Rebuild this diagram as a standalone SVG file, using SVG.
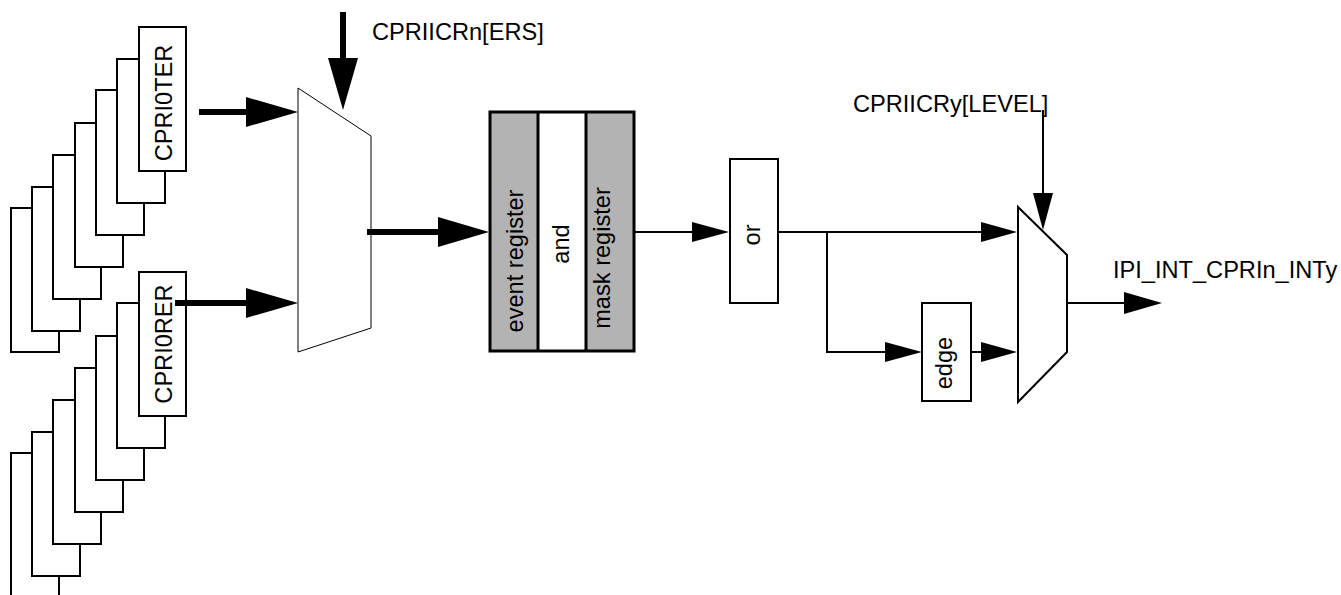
<svg xmlns="http://www.w3.org/2000/svg" width="1341" height="595" viewBox="0 0 1341 595">
<style>
.t{font-family:"Liberation Sans",Arial,sans-serif;font-size:23.6px;fill:#000}
.stk{fill:none;stroke:#000;stroke-width:2}
.box{fill:#fff;stroke:#000;stroke-width:2}
.reg{stroke:#000;stroke-width:3}
.thick{stroke:#000;stroke-width:6;fill:none}
.thin{stroke:#000;stroke-width:2;fill:none}
.mux{fill:#fff;stroke:#000}
</style>
<rect width="1341" height="595" fill="#fff"/>
<g id="ter-stack">
<path class="stk" d="M139,59H117V203H165V171 M117,90H96V235H144V203 M96,123H75V267H123V235 M75,155H53V299H101V267 M53,187H32V331H80V299 M32,208H11V352H59V331"/>
<g id="cpri0ter"><rect class="box" x="139" y="27" width="47" height="144"/>
<text class="t" transform="translate(172,103) rotate(-90)" text-anchor="middle">CPRI0TER</text></g>
</g>
<g id="rer-stack">
<path class="stk" d="M139,303H117V448H165V416 M117,336H96V480H144V448 M96,368H75V512H123V480 M75,400H53V544H101V512 M53,432H32V576H80V544 M32,453H11V600H59V576"/>
<g id="cpri0rer"><rect class="box" x="139" y="272" width="47" height="144"/>
<text class="t" transform="translate(172,344) rotate(-90)" text-anchor="middle">CPRI0RER</text></g>
</g>
<g id="mux1"><polygon class="mux" points="298,88 371,136 371,328 298,352"/></g>
<g id="ers-label"><text class="t" x="372" y="40">CPRIICRn[ERS]</text></g>
<g id="registers">
<rect x="490" y="112" width="48" height="239" fill="#b3b3b3"/>
<rect x="538" y="112" width="48" height="239" fill="#fff"/>
<rect x="586" y="112" width="48" height="239" fill="#b3b3b3"/>
<rect class="reg" x="490" y="112" width="144" height="239" fill="none"/>
<line class="reg" x1="538" y1="112" x2="538" y2="351"/>
<line class="reg" x1="586" y1="112" x2="586" y2="351"/>
<text class="t" transform="translate(523,261) rotate(-90)" text-anchor="middle">event register</text>
<text class="t" transform="translate(569,244) rotate(-90)" text-anchor="middle">and</text>
<text class="t" transform="translate(610,258) rotate(-90)" text-anchor="middle">mask register</text>
</g>
<g id="or"><rect class="box" x="730" y="159" width="48" height="144"/>
<text class="t" transform="translate(760,235) rotate(-90)" text-anchor="middle">or</text></g>
<g id="edge"><rect class="box" x="922" y="303" width="49" height="98"/>
<text class="t" transform="translate(952,363) rotate(-90)" text-anchor="middle">edge</text></g>
<g id="mux2"><polygon class="mux" stroke-width="2" points="1018,207 1067,255 1067,352 1018,402"/></g>
<g id="level-label"><text class="t" x="853" y="112">CPRIICRy[LEVEL]</text></g>
<g id="out-label"><text class="t" x="1113" y="278">IPI_INT_CPRIn_INTy</text></g>
<g id="connectors">
<line class="thick" x1="199" y1="112" x2="248" y2="112"/>
<polygon points="246,97 298,112 246,127"/>
<line class="thick" x1="175" y1="303" x2="248" y2="303"/>
<polygon points="246,288 298,303 246,318"/>
<line class="thick" x1="343" y1="12" x2="343" y2="60"/>
<polygon points="328,58 358,58 343,110"/>
<line class="thick" x1="367" y1="232" x2="440" y2="232"/>
<polygon points="438,217 489,232 438,247"/>
<line class="thin" x1="634" y1="232" x2="694" y2="232"/>
<polygon points="692,222 729,232 692,242"/>
<path class="thin" d="M778,232H983 M827,232V352H887"/>
<polygon points="981,222 1017,232 981,242"/>
<polygon points="885,342 922,352 885,362"/>
<line class="thin" x1="971" y1="352" x2="983" y2="352"/>
<polygon points="981,342 1017,352 981,362"/>
<line class="thin" x1="1043" y1="110" x2="1043" y2="195"/>
<polygon points="1033,193 1053,193 1043,230"/>
<line class="thin" x1="1067" y1="303" x2="1126" y2="303"/>
<polygon points="1124,292 1162,303 1124,314"/>
</g>
</svg>
